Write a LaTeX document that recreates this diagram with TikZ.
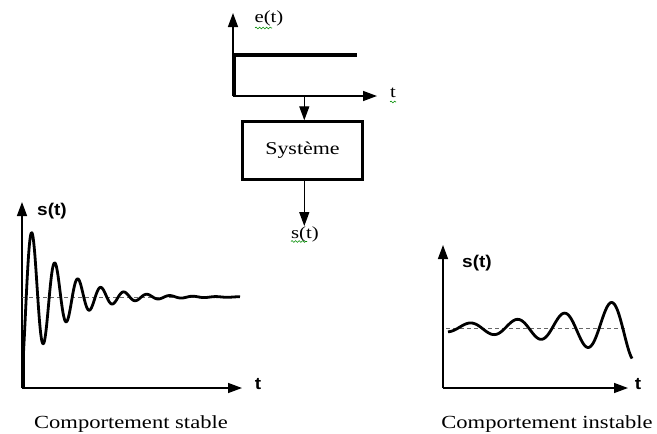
\documentclass[tikz,border=0pt]{standalone}
\usepackage{fontspec}
\setmainfont{Liberation Serif}[FakeStretch=1.22]
\newfontfamily\plotfont{Liberation Sans}[FakeStretch=1.12]
\usetikzlibrary{arrows.meta,decorations.pathmorphing}
\tikzset{
  axis/.style={line width=1.4pt,-{Triangle[length=14pt,width=10pt]}},
  flow/.style={line width=1.3pt,-{Triangle[length=14pt,width=10pt]}},
  curve/.style={line width=2.8pt,line join=round},
  level/.style={black!60,line width=0.8pt,dash pattern=on 4pt off 3pt},
  squiggle/.style={green!55!black,line width=0.6pt,decorate,
    decoration={snake,amplitude=0.9pt,segment length=3.5pt}},
  toplabel/.style={inner sep=0pt,font=\fontsize{17}{19}\selectfont},
  caption/.style={inner sep=0pt,font=\fontsize{18.5}{21}\selectfont},
  plotlabel/.style={inner sep=0pt,font=\plotfont\bfseries\fontsize{17}{19}\selectfont},
  sysbox/.style={draw,line width=2.4pt,minimum width=120pt,minimum height=58pt,
    inner sep=0pt,font=\fontsize{18}{21}\selectfont}
}
\begin{document}
\begin{tikzpicture}[x=1pt,y=-1pt]
\useasboundingbox (0,0) rectangle (657,434);
\begin{scope}
\draw[axis] (233,96) -- (233,13);
\draw[axis] (233,96) -- (377,96);
\draw[line width=3.6pt] (234,96) -- (234,55) -- (357,55);
\node[toplabel] (etlabel) at (269,18) {e(t)};
\node[toplabel] (ttop) at (393,93) {t};
\draw[squiggle] (255,28) -- (272,28);
\draw[squiggle] (390,102) -- (396,102);
\coordinate (stepin) at (304.3,96);
\node[sysbox] (sys) at (302.5,150.5) {Système};
\node[toplabel] (sout) at (305,234) {s(t)};
\draw[squiggle] (291,241.5) -- (307,241.5);
\draw[flow] (stepin) -- (stepin |- sys.north);
\draw[flow] (stepin |- sys.south) -- (stepin |- sout.north);
\end{scope}
\begin{scope}
\draw[axis] (22,388) -- (22,202);
\draw[axis] (22,388) -- (242,388);
\draw[level] (22,297) -- (240,297);
\draw[curve] (23.5,387) -- plot[domain=3:219.5,samples=260,smooth]
  ({20.5+\x},{297+88*exp(-0.0275*\x)*cos(15.65*\x)});
\node[plotlabel] (sstab) at (52,211) {s(t)};
\node[plotlabel] (tstab) at (258,384) {t};
\node[caption] (capstab) at (131,424) {Comportement stable};
\end{scope}
\begin{scope}
\draw[axis] (443,388) -- (443,245);
\draw[axis] (443,388) -- (628,388);
\draw[level] (446,328) -- (627,328);
\draw[curve] plot[domain=0:184,samples=220,smooth]
  ({448+\x},{328-3.9*exp(0.0115*\x)*sin(7.66*(\x-10.25))});
\node[plotlabel] (sinst) at (477,263) {s(t)};
\node[plotlabel] (tinst) at (638,384) {t};
\node[caption] (capinst) at (547,424) {Comportement instable};
\end{scope}
\end{tikzpicture}
\end{document}
